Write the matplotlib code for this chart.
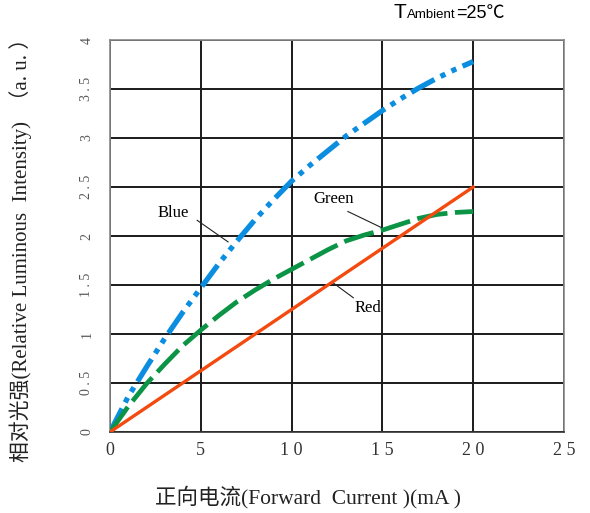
import numpy as np
import matplotlib
matplotlib.use("Agg")
import matplotlib.pyplot as plt

# 字型: 英文用襯線, 中文退回 CJK
plt.rcParams["font.family"] = ["Liberation Serif", "Noto Sans CJK SC", "DejaVu Sans"]
plt.rcParams["axes.unicode_minus"] = False

# 資料
current = [0, 1, 2, 3, 4, 5, 6, 7, 8, 9, 10, 11, 12, 13, 14, 15, 16, 17, 18, 19, 20]
blue = [0, 0.36, 0.66, 0.95, 1.22, 1.47, 1.72, 1.95, 2.17, 2.37, 2.56, 2.72,
        2.87, 3.02, 3.15, 3.28, 3.40, 3.51, 3.61, 3.70, 3.78]
green = [0, 0.26, 0.49, 0.69, 0.88, 1.04, 1.19, 1.33, 1.45, 1.56, 1.66, 1.76,
         1.86, 1.95, 2.01, 2.06, 2.12, 2.18, 2.22, 2.24, 2.25]
red_x = [0, 20]
red_y = [0, 2.5]

x_ticks = [0, 5, 10, 15, 20, 25]
y_ticks = [0, 0.5, 1, 1.5, 2, 2.5, 3, 3.5, 4]


def spaced(v):
    s = ("%g" % v)
    return " ".join(s)


fig = plt.figure(figsize=(5.9, 5.13), dpi=100)
ax = fig.add_axes([110 / 590, 1 - 432 / 513, 454 / 590, 392 / 513])

ax.plot(current, blue, color="#0b8de0", linewidth=3.8,
        dashes=(5, 1.3, 1, 1.3, 1, 1.3), solid_capstyle="butt", zorder=3)
ax.plot(current, green, color="#0b9446", linewidth=3.4,
        dashes=(6.5, 1.6), zorder=3)
ax.plot(red_x, red_y, color="#f24a0f", linewidth=2.4, zorder=4)

ax.set_xlim(0, 25)
ax.set_ylim(0, 4)
ax.set_xticks(x_ticks)
ax.set_yticks(y_ticks)
ax.set_xticklabels([spaced(v) for v in x_ticks], fontsize=13, color="#333333")
ax.set_yticklabels([spaced(v) for v in y_ticks], fontsize=10, color="#555555",
                   rotation=90, va="center")
ax.tick_params(length=0, pad=7)
ax.tick_params(axis="y", pad=12)
ax.grid(True, color="#1a1a1a", linewidth=1.4)
for s in ax.spines.values():
    s.set_color("#888888")
    s.set_linewidth(1.2)
ax.spines["bottom"].set_color("#333333")

# 標註
ax.text(3.5, 2.23, "Blue", fontsize=12, ha="center", va="center")
ax.plot([4.8, 6.5], [2.16, 1.94], color="#222222", linewidth=0.8)
ax.text(12.3, 2.38, "Green", fontsize=12, ha="center", va="center")
ax.plot([13.1, 14.9], [2.25, 2.09], color="#222222", linewidth=0.8)
ax.text(14.2, 1.27, "Red", fontsize=12, ha="center", va="center")
ax.plot([12.3, 13.4], [1.52, 1.37], color="#222222", linewidth=0.8)

fig.text(308 / 590, 1 - 497 / 513, "正向电流(Forward  Current )(mA )",
         fontsize=15.5, ha="center", va="center", color="#222222")
fig.text(21 / 590, 1 - 245 / 513, "相对光强(Relative Luminous  Intensity)  （a. u. ）",
         fontsize=15, ha="center", va="center", rotation=90, color="#222222")

# 溫度標示
sans = ["Liberation Sans", "Noto Sans CJK SC", "DejaVu Sans"]
fig.text(394 / 590, 1 - 13 / 513, "T", fontsize=15, family=sans, va="center")
fig.text(407 / 590, 1 - 15 / 513, "Ambient", fontsize=9.5, family=sans, va="center")
fig.text(456 / 590, 1 - 13 / 513, "=25℃", fontsize=13, family=sans, va="center")

fig.savefig("out.png", dpi=100)
